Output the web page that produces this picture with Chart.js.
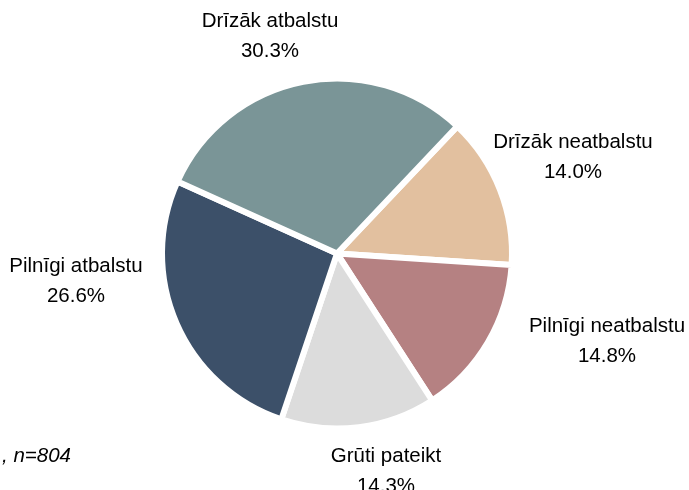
<!DOCTYPE html>
<html>
<head>
<meta charset="utf-8">
<script src="https://cdn.jsdelivr.net/npm/chart.js@4"></script>
<style>
  body { margin: 0; background: #fff; }
  canvas { display: block; }
</style>
</head>
<body>
<canvas id="pieChart" width="689" height="490"></canvas>
<script>
// Data (clockwise, starting at the upper right)
const categories = ['Drīzāk neatbalstu', 'Pilnīgi neatbalstu', 'Grūti pateikt', 'Pilnīgi atbalstu', 'Drīzāk atbalstu'];
const shares = [14.0, 14.8, 14.3, 26.6, 30.3];
const sliceColors = ['#e2c09f', '#b58182', '#dcdcdc', '#3c5069', '#7a9597'];
const footnote = ', n=804';

// where each label block is centred
const labelPos = [[573, 148], [607, 332], [386, 462], [76, 272], [270, 27]];

const labelPlugin = {
  id: 'pieLabels',
  afterDraw(chart) {
    const ctx = chart.ctx;
    ctx.save();
    ctx.fillStyle = '#000';
    ctx.font = '20.5px "Liberation Sans", Arial, sans-serif';
    ctx.textAlign = 'center';
    ctx.textBaseline = 'alphabetic';
    categories.forEach((name, i) => {
      const [x, y] = labelPos[i];
      ctx.fillText(name, x, y);
      ctx.fillText(shares[i].toFixed(1) + '%', x, y + 30);
    });
    ctx.font = 'italic 20.5px "Liberation Sans", Arial, sans-serif';
    ctx.textAlign = 'right';
    ctx.fillText(footnote, 71, 462);
    ctx.restore();
  }
};

const pieCtx = document.getElementById('pieChart').getContext('2d');
const pieChart = new Chart(pieCtx, {
  type: 'pie',
  data: {
    labels: categories,
    datasets: [{
      data: shares,
      backgroundColor: sliceColors,
      borderColor: '#ffffff',
      borderWidth: 6
    }]
  },
  options: {
    responsive: false,
    animation: false,
    rotation: 43.4,
    radius: 175,
    layout: {
      padding: { left: 0, right: 15, top: 17, bottom: 0 }
    },
    plugins: {
      legend: { display: false },
      tooltip: { enabled: false }
    }
  },
  plugins: [labelPlugin]
});
</script>
</body>
</html>
